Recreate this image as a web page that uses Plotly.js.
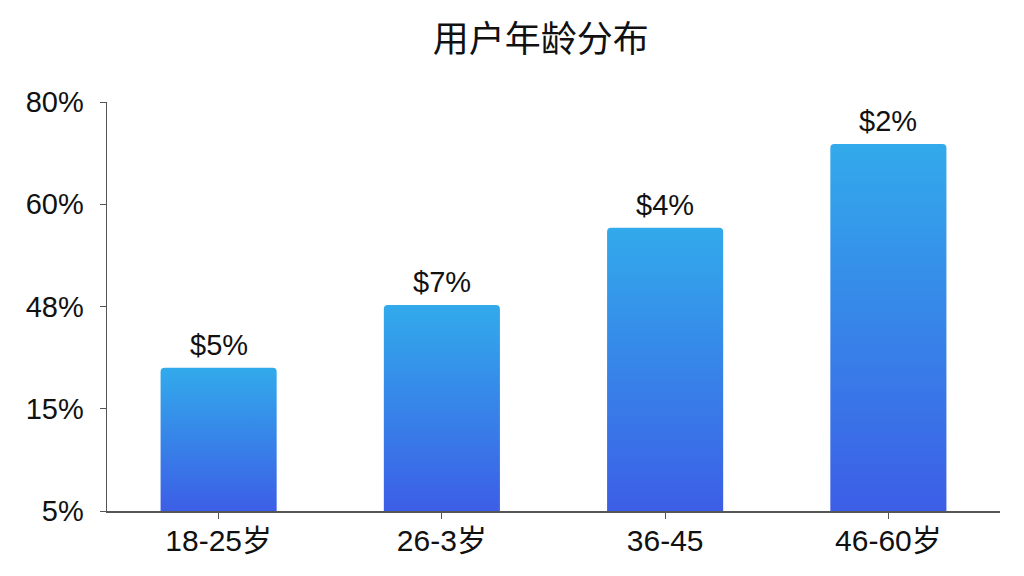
<!DOCTYPE html>
<html>
<head>
<meta charset="utf-8">
<script src="https://cdn.plot.ly/plotly-3.0.1.min.js"></script>
<style>
  html, body { margin: 0; padding: 0; background: #fff; }
  #chart { width: 1024px; height: 576px; }
</style>
</head>
<body>
<div id="chart"></div>
<script>
// age groups and bar heights (axis units)
const ageGroups = ["18-25岁", "26-3岁", "36-45", "46-60岁"];
const barValues = [28, 40.3, 55.4, 71.8];
const barLabels = ["$5%", "$7%", "$4%", "$2%"];

// y ticks are evenly spaced but labelled oddly in the source
const yTickVals = [0, 20, 40, 60, 80];
const yTickText = ["5%", "15%", "48%", "60%", "80%"];

const FONT = "Liberation Sans, Arial, Noto Sans CJK SC, sans-serif";

var trace = {
  type: "bar",
  x: ageGroups,
  y: barValues,
  marker: { color: "#3a86e6", line: { width: 0 } },
  width: 0.52,
  hoverinfo: "skip",
};

// value labels sit a little above each bar
var labels = ageGroups.map(function (g, i) {
  return {
    x: g,
    y: barValues[i],
    text: barLabels[i],
    showarrow: false,
    xanchor: "center",
    yanchor: "bottom",
    yshift: 5,
    font: { family: FONT, size: 29, color: "#111" },
  };
});

var layout = {
  width: 1024,
  height: 576,
  margin: { l: 107, r: 24, t: 102, b: 65 },
  paper_bgcolor: "#fff",
  plot_bgcolor: "#fff",
  barcornerradius: 4,
  showlegend: false,
  annotations: labels,
  title: {
    text: "用户年龄分布",
    font: { family: "Noto Sans CJK SC, sans-serif", size: 36, color: "#111" },
    xref: "container",
    x: 0.528,
    xanchor: "center",
    yref: "container",
    y: 0.932,
    yanchor: "middle",
  },
  xaxis: {
    showgrid: false,
    showline: true,
    linecolor: "#555",
    linewidth: 1.5,
    ticks: "outside",
    ticklen: 6,
    tickcolor: "#555",
    ticklabelstandoff: -4,
    tickfont: { family: FONT, size: 30, color: "#111" },
    fixedrange: true,
  },
  yaxis: {
    range: [0, 80],
    tickvals: yTickVals,
    ticktext: yTickText,
    showgrid: false,
    zeroline: false,
    showline: true,
    linecolor: "#555",
    linewidth: 1.5,
    ticks: "outside",
    ticklen: 6,
    tickcolor: "#555",
    ticklabelstandoff: 10,
    tickfont: { family: FONT, size: 29, color: "#111" },
    fixedrange: true,
  },
};

Plotly.newPlot("chart", [trace], layout, { staticPlot: true }).then(function (gd) {
  // bars have a vertical gradient: add an svg gradient and point the bar fills at it
  var svg = gd.querySelector("svg.main-svg");
  var ns = "http://www.w3.org/2000/svg";
  var defs = svg.querySelector("defs") || svg.insertBefore(document.createElementNS(ns, "defs"), svg.firstChild);
  var grad = document.createElementNS(ns, "linearGradient");
  grad.setAttribute("id", "barGrad");
  grad.setAttribute("x1", "0");
  grad.setAttribute("y1", "0");
  grad.setAttribute("x2", "0");
  grad.setAttribute("y2", "1");
  [["0%", "rgb(50,170,235)"], ["100%", "rgb(60,94,230)"]].forEach(function (s) {
    var stop = document.createElementNS(ns, "stop");
    stop.setAttribute("offset", s[0]);
    stop.setAttribute("stop-color", s[1]);
    grad.appendChild(stop);
  });
  defs.appendChild(grad);
  gd.querySelectorAll(".bars .point path").forEach(function (p) {
    p.style.fill = "url(#barGrad)";
  });
});
</script>
</body>
</html>
